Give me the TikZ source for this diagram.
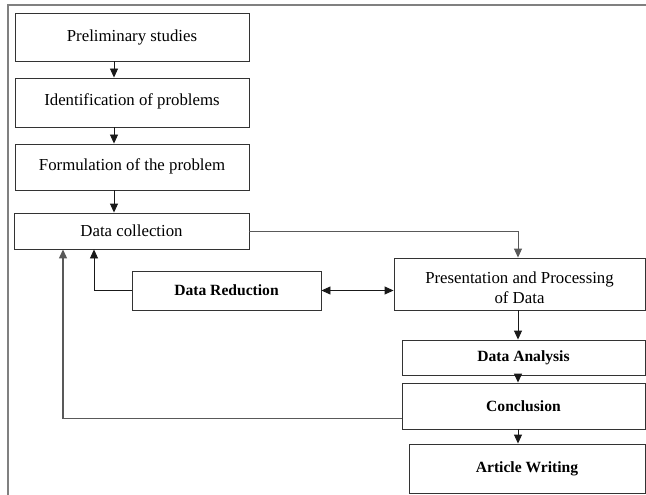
\documentclass[tikz,border=0pt]{standalone}
\usepackage{fontspec}
\setmainfont{Liberation Serif}
\usetikzlibrary{arrows.meta}
\begin{document}
\begin{tikzpicture}[x=1pt,y=-1pt,
  box/.style={draw=black!80,line width=0.9pt,rectangle,inner sep=0pt,align=center,
    font=\fontsize{16.8}{21}\selectfont},
  txt/.style={inner sep=0pt,font=\fontsize{16.8}{21}\selectfont},
  bbox/.style={box,font=\fontsize{15.6}{19}\selectfont\bfseries},
  arr/.style={draw=black!90,line width=0.9pt,-{Triangle[length=9pt,width=8pt]}},
  darr/.style={draw=black!90,line width=0.9pt,{Triangle[length=9pt,width=8pt]}-{Triangle[length=9pt,width=8pt]}},
  frameline/.style={draw=black!50,line width=2pt}]
\useasboundingbox (0,0) rectangle (646,495);
\draw[frameline] (7.5,495) -- (7.5,5) -- (646,5);
\node[box,minimum width=234pt,minimum height=48pt] (prelim) at (132,37) {\raisebox{3pt}{Preliminary studies}};
\node[box,minimum width=234pt,minimum height=49pt] (ident) at (132,102.5) {\raisebox{5pt}{Identification of problems}};
\node[box,minimum width=234pt,minimum height=46pt] (formul) at (132,167) {\raisebox{5pt}{Formulation of the problem}};
\node[box,minimum width=235pt,minimum height=36pt] (datacol) at (131.5,231) {\raisebox{1pt}{Data collection}};
\node[bbox,minimum width=189pt,minimum height=39pt] (reduct) at (226.5,290.5) {\raisebox{1pt}{Data Reduction}};
\node[box,minimum width=251pt,minimum height=52pt] (present) at (519.5,284) {};
\node[txt,anchor=base] (presentA) at ([yshift=1pt]present.center) {Presentation and Processing};
\node[txt,anchor=base] (presentB) at ([yshift=-19.5pt]present.center) {of Data};
\node[bbox,minimum width=243pt,minimum height=35pt] (analysis) at (523.5,357.5) {Data Analysis};
\node[bbox,minimum width=243pt,minimum height=46pt] (concl) at (523.5,406) {Conclusion};
\node[bbox,minimum width=236pt,minimum height=49pt] (article) at (527,468.5) {Article Writing};
\coordinate (cl) at (114,0);
\coordinate (cr) at (518,0);
\coordinate (c94) at (94,0);
\coordinate (c63) at (63,0);
\coordinate (cy) at (0,418.5);
\draw[arr] (prelim.south -| cl) -- (ident.north -| cl);
\draw[arr] (ident.south -| cl) -- (formul.north -| cl);
\draw[arr] (formul.south -| cl) -- (datacol.north -| cl);
\draw[arr,draw=black!65] (datacol.east) -| (present.north -| cr);
\draw[darr] (reduct.east) -- (reduct.east -| present.west);
\draw[arr] (reduct.west) -| (c94 |- datacol.south);
\draw[arr,draw=black!65,line width=1.2pt] (concl.west |- cy) -| (c63 |- datacol.south);
\draw[arr] (present.south -| cr) -- (analysis.north -| cr);
\draw[arr] (analysis.south -| cr) -- (concl.north -| cr);
\draw[arr] (concl.south -| cr) -- (article.north -| cr);
\end{tikzpicture}
\end{document}
